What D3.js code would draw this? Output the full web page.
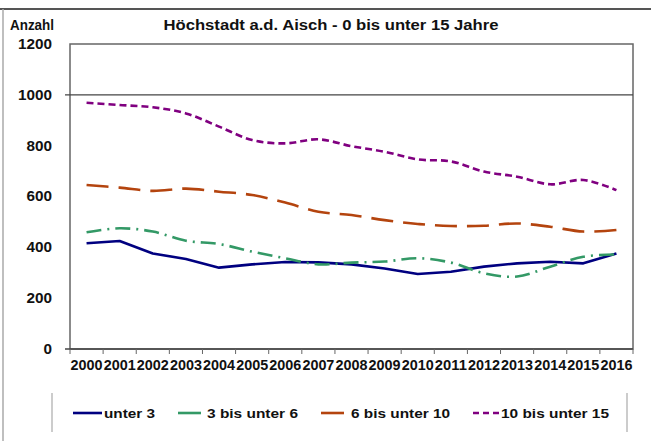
<!DOCTYPE html>
<html>
<head>
<meta charset="utf-8">
<script src="https://cdn.jsdelivr.net/npm/d3@7"></script>
<style>
  body { margin: 0; background: #fff; }
  svg { display: block; font-family: "Liberation Sans", Arial, sans-serif; font-weight: bold; }
</style>
</head>
<body>
<svg id="chart" width="651" height="441"></svg>
<script>
// Werte
var years = ['2000', '2001', '2002', '2003', '2004', '2005', '2006', '2007', '2008',
	'2009', '2010', '2011', '2012', '2013', '2014', '2015', '2016'];
var unter3 = [416, 425, 376, 354, 320, 333, 342, 341, 333, 317, 295, 304, 324, 337, 343, 337, 376];
var bis6 = [459, 475, 462, 426, 413, 383, 357, 333, 340, 344, 357, 340, 298, 285, 324, 363, 372];
var bis10 = [645, 635, 622, 631, 619, 606, 576, 540, 527, 507, 492, 484, 485, 494, 481, 462, 468];
var bis15 = [969, 960, 951, 927, 875, 822, 809, 825, 798, 776, 746, 738, 698, 678, 648, 665, 625];
var yTicks = [0, 200, 400, 600, 800, 1000, 1200];
var seriesNames = ['unter 3', '3 bis unter 6', '6 bis unter 10', '10 bis unter 15'];

var series = [
	{ name: seriesNames[0], values: unter3, color: '#000080', dash: null, legendDash: null, smooth: false },
	{ name: seriesNames[1], values: bis6, color: '#339966', dash: '15,6,2,6', legendDash: null, smooth: true },
	{ name: seriesNames[2], values: bis10, color: '#b4440e', dash: '22,10', legendDash: null, smooth: true },
	{ name: seriesNames[3], values: bis15, color: '#800080', dash: '7,4', legendDash: '6,4', smooth: true }
];

var svg = d3.select('#chart');

var pLeft = 70, pRight = 633, pTop = 44, pBottom = 349;

var x = d3.scaleBand().domain(years).range([pLeft, pRight]);
var y = d3.scaleLinear().domain([0, 1200]).range([pBottom, pTop]);

// Rahmen der ganzen Grafik
svg.append('line')
	.attr('x1', 0).attr('x2', 651).attr('y1', 9).attr('y2', 9)
	.attr('stroke', '#555').attr('stroke-width', 2);
svg.append('line')
	.attr('x1', 3).attr('x2', 3).attr('y1', 9).attr('y2', 441)
	.attr('stroke', '#aaa').attr('stroke-width', 1.5);

// Zeichenfläche
svg.append('rect')
	.attr('x', pLeft).attr('y', pTop)
	.attr('width', pRight - pLeft).attr('height', pBottom - pTop)
	.attr('fill', 'none').attr('stroke', '#666').attr('stroke-width', 1.5);

// Gitterlinie bei 1000
svg.append('line')
	.attr('x1', pLeft - 5).attr('x2', pRight)
	.attr('y1', y(1000)).attr('y2', y(1000))
	.attr('stroke', '#444').attr('stroke-width', 1.2);

// y-Achse
var yAxis = svg.append('g')
	.attr('transform', 'translate(' + pLeft + ',0)')
	.call(d3.axisLeft(y).tickValues(yTicks).tickFormat(d3.format('d')).tickSize(0).tickPadding(18));
yAxis.select('.domain').remove();
yAxis.selectAll('text')
	.attr('font-size', 14).attr('font-weight', 'bold').attr('fill', '#111')
	.attr('font-family', '"Liberation Sans", Arial, sans-serif')
	.attr('textLength', function(d){ return String(d).length * 8.5; })
	.attr('lengthAdjust', 'spacingAndGlyphs');

// x-Achse
var xAxis = svg.append('g')
	.attr('transform', 'translate(0,' + pBottom + ')')
	.call(d3.axisBottom(x).tickSize(0).tickPadding(11));
xAxis.select('.domain').remove();
xAxis.selectAll('text')
	.attr('font-size', 14).attr('font-weight', 'bold').attr('fill', '#111')
	.attr('font-family', '"Liberation Sans", Arial, sans-serif')
	.attr('textLength', 32).attr('lengthAdjust', 'spacingAndGlyphs');

svg.append('line')
	.attr('x1', pLeft - 5).attr('x2', pRight)
	.attr('y1', pBottom).attr('y2', pBottom)
	.attr('stroke', '#444').attr('stroke-width', 1.5);

svg.append('g').selectAll('line')
	.data(years.concat(['end']))
	.enter().append('line')
	.attr('x1', function(d, i){ return pLeft + i * x.step(); })
	.attr('x2', function(d, i){ return pLeft + i * x.step(); })
	.attr('y1', pBottom).attr('y2', pBottom + 5)
	.attr('stroke', '#666').attr('stroke-width', 1);

// Linien
var lineSmooth = d3.line()
	.x(function(d, i){ return x(years[i]) + x.bandwidth() / 2; })
	.y(function(d){ return y(d); })
	.curve(d3.curveCatmullRom.alpha(0.5));
var lineStraight = d3.line()
	.x(function(d, i){ return x(years[i]) + x.bandwidth() / 2; })
	.y(function(d){ return y(d); });

svg.append('g').selectAll('path')
	.data(series)
	.enter().append('path')
	.attr('d', function(s){ return s.smooth ? lineSmooth(s.values) : lineStraight(s.values); })
	.attr('fill', 'none')
	.attr('stroke', function(s){ return s.color; })
	.attr('stroke-width', 2.6)
	.attr('stroke-linejoin', 'round')
	.attr('stroke-dasharray', function(s){ return s.dash; });

// Titel
svg.append('text')
	.attr('x', 331).attr('y', 30)
	.attr('text-anchor', 'middle')
	.attr('font-size', 14).attr('fill', '#111')
	.attr('textLength', 335).attr('lengthAdjust', 'spacingAndGlyphs')
	.text('Höchstadt a.d. Aisch - 0 bis unter 15 Jahre');

svg.append('text')
	.attr('x', 10).attr('y', 30)
	.attr('font-size', 14).attr('fill', '#111')
	.attr('textLength', 44).attr('lengthAdjust', 'spacingAndGlyphs')
	.text('Anzahl');

// Legende
svg.append('line')
	.attr('x1', 52).attr('x2', 52).attr('y1', 393).attr('y2', 432)
	.attr('stroke', '#ccc').attr('stroke-width', 2);
svg.append('line')
	.attr('x1', 627).attr('x2', 627).attr('y1', 393).attr('y2', 432)
	.attr('stroke', '#ccc').attr('stroke-width', 2);

var legendX = [73, 178, 321, 473];
var legendLen = [29, 23, 23, 27];
var textX = [104, 207, 351, 501];
var textLen = [51, 91, 99, 108];

var leg = svg.append('g').selectAll('g')
	.data(series)
	.enter().append('g');

leg.append('line')
	.attr('x1', function(s, i){ return legendX[i]; })
	.attr('x2', function(s, i){ return legendX[i] + legendLen[i]; })
	.attr('y1', 413).attr('y2', 413)
	.attr('stroke', function(s){ return s.color; })
	.attr('stroke-width', 2.6)
	.attr('stroke-dasharray', function(s){ return s.legendDash; });

leg.append('text')
	.attr('x', function(s, i){ return textX[i]; })
	.attr('y', 418)
	.attr('font-size', 13).attr('fill', '#111')
	.attr('textLength', function(s, i){ return textLen[i]; })
	.attr('lengthAdjust', 'spacingAndGlyphs')
	.text(function(s){ return s.name; });
</script>
</body>
</html>
